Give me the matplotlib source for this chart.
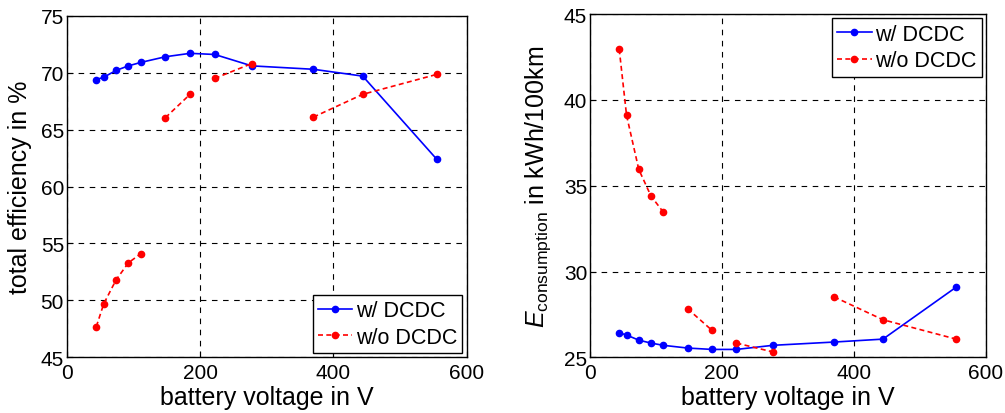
import matplotlib
matplotlib.use('Agg')
import matplotlib.pyplot as plt

plt.rcParams['font.family'] = ['Liberation Sans', 'DejaVu Sans']
plt.rcParams['mathtext.fontset'] = 'custom'
plt.rcParams['mathtext.rm'] = 'Liberation Sans'
plt.rcParams['mathtext.it'] = 'Liberation Sans:italic'
plt.rcParams['font.size'] = 15

# battery voltages (cells in series * 3.7 V)
volt_dcdc = [44.4, 55.5, 74, 92.5, 111, 148, 185, 222, 277.5, 370, 444, 555]

# total efficiency in %
eff_dcdc = [69.4, 69.6, 70.2, 70.6, 70.9, 71.4, 71.7, 71.6, 70.6, 70.3, 69.7, 62.4]
eff_nodcdc_segments = [
    ([44.4, 55.5, 74, 92.5, 111], [47.7, 49.7, 51.8, 53.3, 54.1]),
    ([148, 185], [66.05, 68.1]),
    ([222, 277.5], [69.5, 70.8]),
    ([370, 444, 555], [66.1, 68.1, 69.85]),
]

# energy consumption in kWh/100km
cons_dcdc = [26.43, 26.3, 26.0, 25.83, 25.7, 25.54, 25.46, 25.46, 25.7, 25.89, 26.06, 29.09]
cons_nodcdc_segments = [
    ([44.4, 55.5, 74, 92.5, 111], [42.95, 39.1, 35.95, 34.4, 33.47]),
    ([148, 185], [27.83, 26.57]),
    ([222, 277.5], [25.83, 25.31]),
    ([370, 444, 555], [28.52, 27.19, 26.06]),
]

fig = plt.figure(figsize=(10.05, 4.14), dpi=100)
ax1 = fig.add_axes([0.0664, 0.1345, 0.398, 0.825])
ax2 = fig.add_axes([0.587, 0.1345, 0.394, 0.829])


def style_axes(ax, ylim, yticks):
    ax.set_xlim(0, 600)
    ax.set_xticks([0, 200, 400, 600])
    ax.set_ylim(*ylim)
    ax.set_yticks(yticks)
    ax.grid(True, color='black', linestyle=(0, (5, 5)), linewidth=0.8)
    ax.tick_params(direction='in', length=4, pad=2)
    ax.tick_params(axis='x', pad=4)
    for s in ax.spines.values():
        s.set_linewidth(1.0)
    ax.set_xlabel('battery voltage in V', fontsize=18, labelpad=2)


def draw(ax, xb, yb, segs):
    ax.plot(xb, yb, color='blue', linestyle='-', marker='.', markersize=9,
            linewidth=1.2, label='w/ DCDC')
    for i, (xs, ys) in enumerate(segs):
        ax.plot(xs, ys, color='red', linestyle=(0, (3, 2)), marker='.',
                markersize=9, linewidth=1.2,
                label='w/o DCDC' if i == 0 else None)


def legend(ax, loc):
    leg = ax.legend(loc=loc, fancybox=False, edgecolor='black', fontsize=15.5,
                    framealpha=1, borderaxespad=0.2, handlelength=1.6,
                    borderpad=0.25, labelspacing=0.25, handletextpad=0.15)
    leg.get_frame().set_linewidth(1.0)


draw(ax1, volt_dcdc, eff_dcdc, eff_nodcdc_segments)
style_axes(ax1, (45, 75), range(45, 80, 5))
ax1.set_ylabel('total efficiency in %', fontsize=18, labelpad=6)
legend(ax1, 'lower right')

draw(ax2, volt_dcdc, cons_dcdc, cons_nodcdc_segments)
style_axes(ax2, (25, 45), range(25, 50, 5))
ax2.set_ylabel(r'$E_{\mathrm{consumption}}$ in kWh/100km', fontsize=18, labelpad=8)
legend(ax2, 'upper right')

fig.savefig('out.png', dpi=100)
